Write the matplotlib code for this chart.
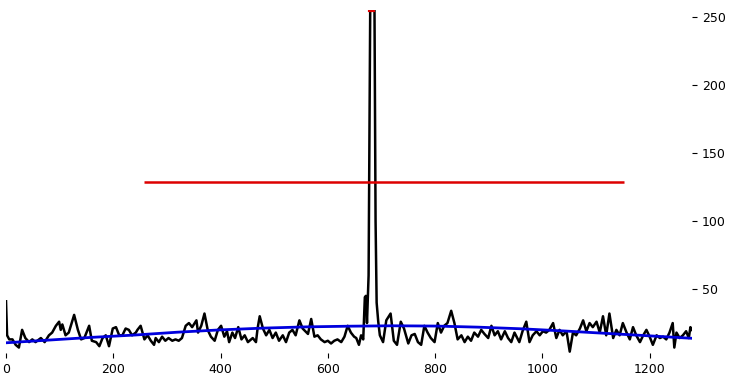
import matplotlib
matplotlib.use("Agg")
import matplotlib.pyplot as plt
import numpy as np

# signal (x, value)
sig_x = [0, 2, 6, 12, 18, 24, 30, 36, 43, 49, 55, 65, 72, 80, 86, 93, 99, 102, 105, 111,
         117, 127, 134, 140, 146, 155, 160, 168, 174, 180, 186, 192, 199, 205, 211, 217, 223, 229, 235, 242,
         245, 251, 258, 264, 270, 276, 279, 285, 291, 297, 303, 310, 316, 322, 328, 335, 341, 347, 355, 358,
         364, 370, 376, 382, 389, 395, 401, 407, 412, 416, 422, 427, 433, 439, 445, 451, 460, 466, 469, 473,
         479, 485, 491, 497, 503, 509, 516, 522, 528, 534, 540, 547, 553, 563, 569, 575, 581, 587, 594, 600,
         606, 612, 618, 625, 631, 637, 643, 649, 653, 658, 662, 666, 669, 671, 673, 676, 679, 681, 685, 687,
         689, 691, 694, 697, 703, 709, 717, 723, 729, 736, 742, 750, 756, 762, 768, 774, 780, 786, 792, 799,
         805, 811, 817, 823, 830, 836, 842, 849, 855, 861, 867, 873, 880, 886, 892, 899, 905, 911, 917, 923,
         930, 936, 942, 948, 957, 963, 970, 976, 982, 989, 995, 1001, 1007, 1013, 1020, 1026, 1032, 1038, 1045, 1051,
         1057, 1063, 1070, 1076, 1082, 1088, 1094, 1101, 1107, 1113, 1119, 1125, 1132, 1138, 1144, 1150, 1157, 1163, 1169, 1175,
         1182, 1188, 1194, 1200, 1206, 1213, 1219, 1225, 1231, 1237, 1243, 1246, 1250, 1256, 1262, 1268, 1273, 1276, 1279]
sig_y = [41, 16, 13, 13, 9, 7, 20, 14, 11, 13, 11, 14, 11, 16, 18, 23, 26, 20, 24, 16,
         18, 31, 20, 13, 14, 23, 12, 11, 8, 14, 16, 8, 21, 22, 16, 16, 21, 20, 16, 18,
         20, 23, 13, 16, 12, 9, 14, 11, 15, 12, 14, 12, 13, 12, 14, 23, 25, 22, 27, 18,
         23, 32, 20, 15, 12, 20, 23, 15, 19, 11, 18, 14, 22, 13, 16, 11, 14, 11, 21, 30,
         21, 16, 20, 14, 18, 12, 16, 11, 18, 20, 16, 27, 21, 17, 28, 15, 16, 13, 11, 12,
         10, 12, 13, 11, 15, 23, 18, 15, 14, 9, 16, 13, 44, 45, 25, 60, 255, 255, 255, 255,
         100, 40, 26, 16, 11, 27, 32, 12, 9, 26, 21, 10, 16, 17, 11, 9, 23, 18, 14, 11,
         25, 18, 23, 25, 34, 25, 13, 16, 11, 15, 12, 18, 15, 20, 17, 14, 23, 16, 19, 13,
         19, 14, 11, 18, 11, 19, 26, 11, 16, 19, 16, 19, 18, 20, 25, 14, 20, 16, 19, 4,
         18, 16, 21, 27, 19, 25, 22, 26, 18, 30, 16, 32, 14, 20, 16, 25, 18, 13, 22, 16,
         11, 16, 20, 15, 9, 16, 14, 15, 13, 18, 25, 7, 18, 14, 16, 19, 14, 22, 20]

# smooth baseline
base_x = [0, 80, 160, 240, 320, 400, 480, 560, 640, 720, 800, 880, 960, 1040, 1120, 1200, 1279]
base_y = [10.5, 12.5, 14.5, 16.2, 18.3, 20.0, 21.3, 22.2, 22.7, 23.0, 22.8, 22.0, 20.8, 19.2, 17.4, 15.6, 13.8]

# half-height line and peak
half_y = 129
half_x0, half_x1 = 258, 1153
peak_x, peak_y = 682, 255

fig = plt.figure(figsize=(7.34, 3.82), dpi=100)
ax = fig.add_axes([0.0082, 0.0759, 0.9346, 0.8979])

ax.plot(sig_x, sig_y, color='black', linewidth=1.8, zorder=2)
ax.plot(base_x, base_y, color='#0000dd', linewidth=2, zorder=3)
ax.hlines(half_y, half_x0, half_x1, color='#dd0000', linewidth=1.8, zorder=4)
ax.plot([peak_x - 3, peak_x + 3], [peak_y, peak_y], color='#dd0000', linewidth=3, zorder=5)

ax.set_xlim(0, 1279)
ax.set_ylim(min(sig_y) - 1, max(sig_y))
for s in ax.spines.values():
    s.set_visible(False)
ax.yaxis.tick_right()
ax.set_yticks([50, 100, 150, 200, 250])
ax.set_xticks([0, 200, 400, 600, 800, 1000, 1200])
ax.tick_params(labelsize=9)

fig.savefig('out.png', dpi=100)
